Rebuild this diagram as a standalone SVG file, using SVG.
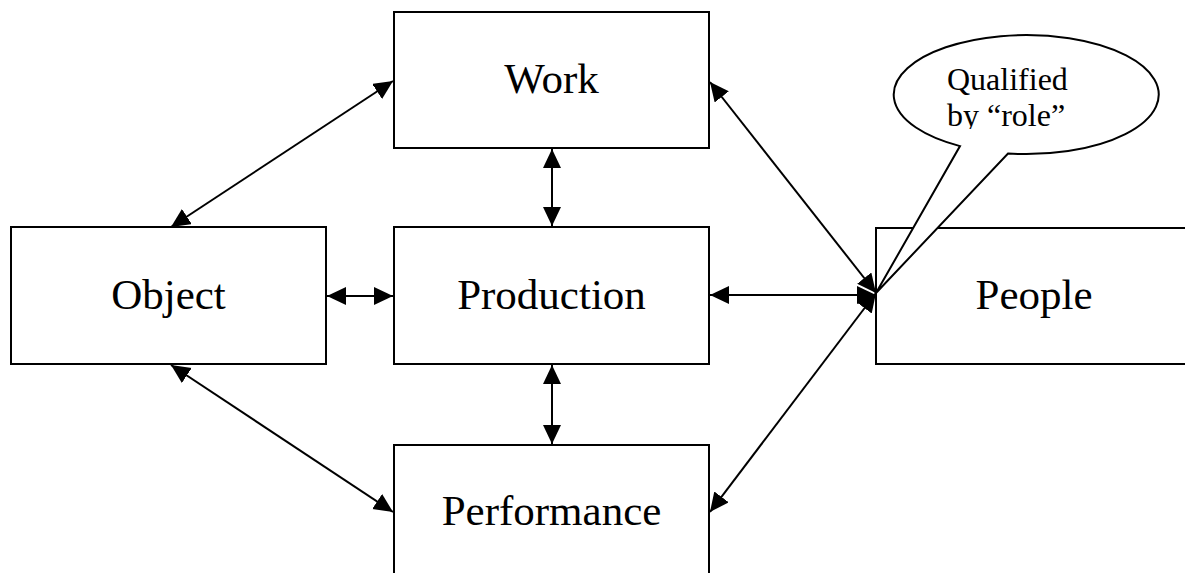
<svg xmlns="http://www.w3.org/2000/svg" width="1185" height="573" viewBox="0 0 1185 573">
  <style>
    .box { fill: #ffffff; stroke: #000000; stroke-width: 2; }
    .label { font-family: "Liberation Serif", "Times New Roman", serif; font-size: 43px; fill: #000000; text-anchor: middle; }
    .note { font-family: "Liberation Serif", "Times New Roman", serif; font-size: 32px; fill: #000000; }
    .link { fill: none; stroke: #000000; stroke-width: 2; marker-start: url(#head); marker-end: url(#head); }
    .callout { fill: #ffffff; stroke: #000000; stroke-width: 2; stroke-linejoin: miter; }
  </style>
  <defs>
    <marker id="head" markerUnits="userSpaceOnUse" markerWidth="20" markerHeight="20" refX="19" refY="9" orient="auto-start-reverse" viewBox="0 0 20 20">
      <path d="M0,0 L19,9 L0,18 Z" fill="#000000"/>
    </marker>
    <clipPath id="noteClip">
      <rect x="930" y="50" width="200" height="79"/>
    </clipPath>
  </defs>

  <rect width="1185" height="573" fill="#ffffff"/>

  <g id="work">
    <rect class="box" x="394" y="12" width="315" height="136"/>
    <text class="label" x="551.5" y="93">Work</text>
  </g>

  <g id="object">
    <rect class="box" x="11" y="227" width="315" height="137"/>
    <text class="label" x="168.5" y="309">Object</text>
  </g>

  <g id="production">
    <rect class="box" x="394" y="227" width="315" height="137"/>
    <text class="label" x="551.5" y="309">Production</text>
  </g>

  <g id="performance">
    <rect class="box" x="394" y="445" width="315" height="150"/>
    <text class="label" x="551.5" y="525">Performance</text>
  </g>

  <g id="people">
    <rect class="box" x="876" y="228" width="330" height="136"/>
    <text class="label" x="1034" y="309">People</text>
  </g>

  <g id="connectors">
    <line class="link" x1="171" y1="227" x2="393" y2="81"/>
    <line class="link" x1="552" y1="149" x2="552" y2="226"/>
    <line class="link" x1="327" y1="296" x2="393" y2="296"/>
    <line class="link" x1="552" y1="365" x2="552" y2="444"/>
    <line class="link" x1="171" y1="365" x2="393" y2="512"/>
    <line class="link" x1="710" y1="82" x2="876" y2="293"/>
    <line class="link" x1="710" y1="295" x2="876" y2="295"/>
    <line class="link" x1="710" y1="512" x2="876" y2="293"/>
  </g>

  <g id="role-note">
    <path class="callout" d="M960,146.1 A132.5,59.5 0 1 1 1008,153.5 L876,293 Z"/>
    <g clip-path="url(#noteClip)">
      <text class="note" x="947" y="90">Qualified</text>
      <text class="note" x="947" y="126">by “role”</text>
    </g>
  </g>
</svg>
